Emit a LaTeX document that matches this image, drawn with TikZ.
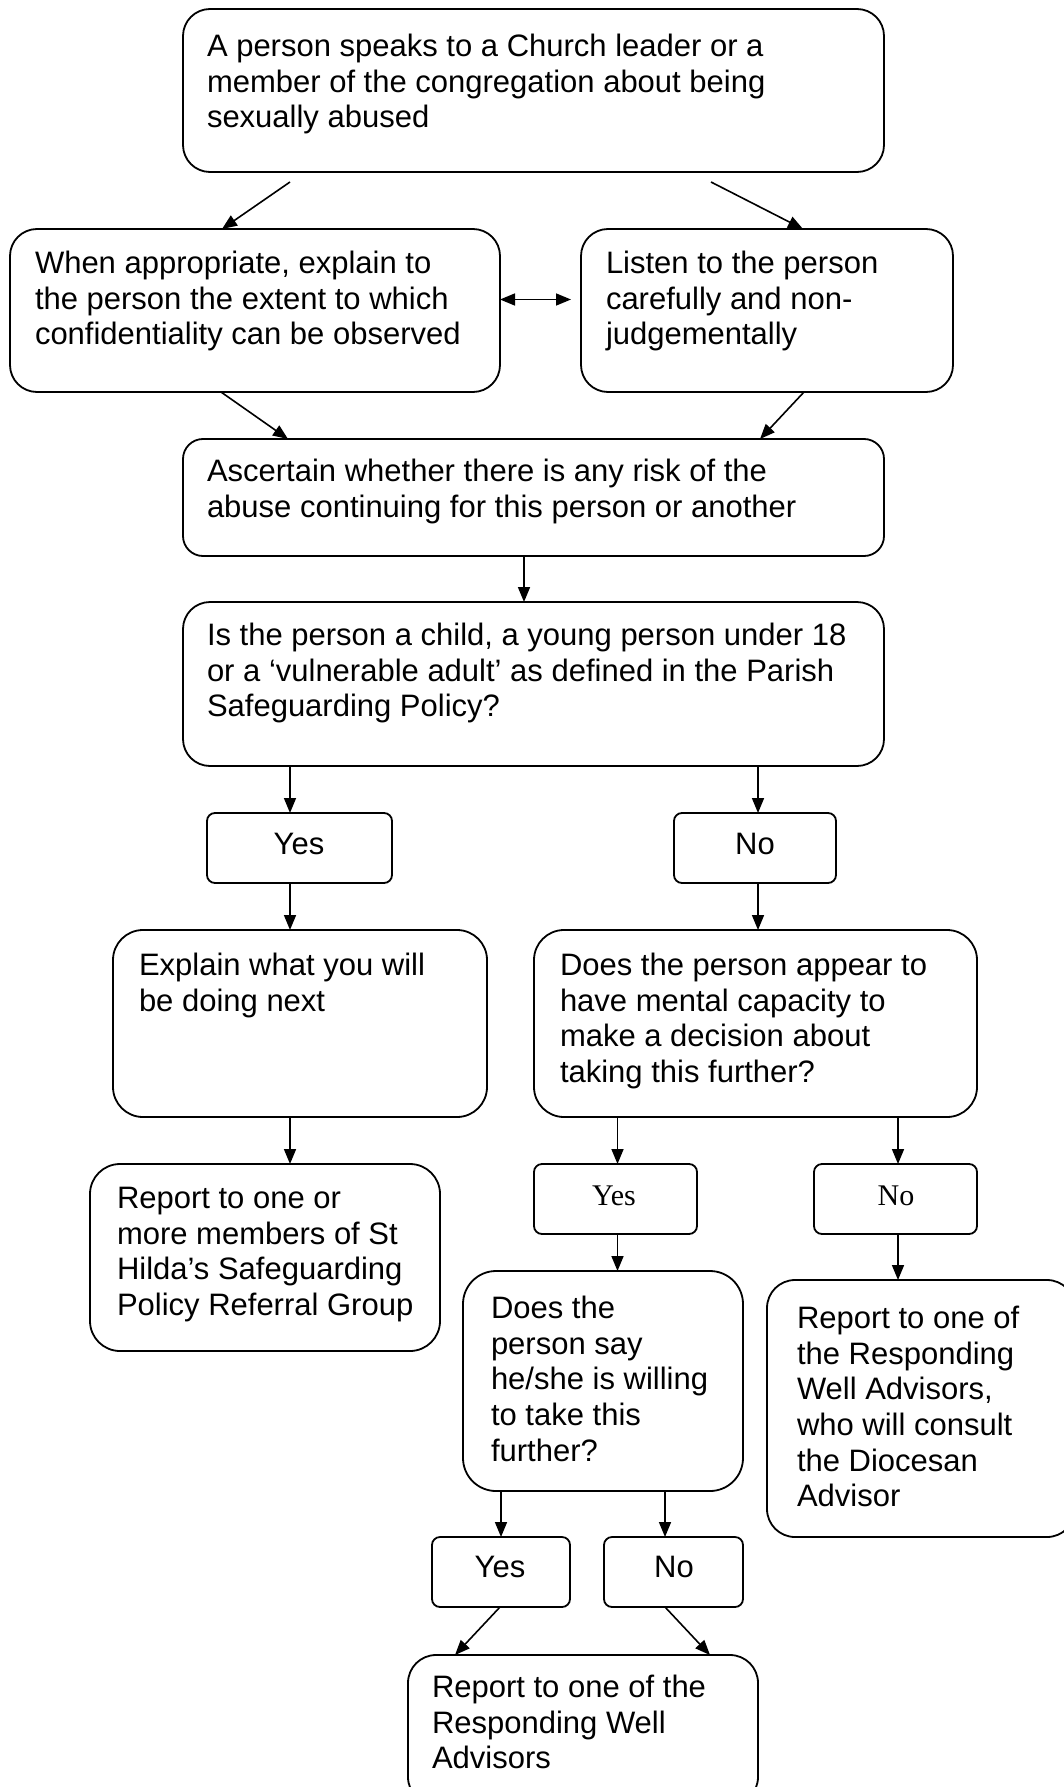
\documentclass[tikz,border=0pt]{standalone}
\usepackage{fontspec}
\setmainfont{Liberation Sans}
\newfontfamily\timesfont{Liberation Serif}
\usetikzlibrary{arrows.meta}
\tikzset{
  box/.style={draw, line width=1.8pt, inner sep=0pt, outer sep=0pt, anchor=north west},
  txt/.style={anchor=north west, inner sep=0pt, outer sep=0pt, align=left,
    font=\fontsize{31}{35.7}\selectfont, execute at begin node={\rule{0pt}{24pt}}},
  lbl/.style={anchor=base, inner sep=0pt, font=\fontsize{31}{35.7}\selectfont},
  tlbl/.style={anchor=base, inner sep=0pt, font=\timesfont\fontsize{30}{34}\selectfont},
  arr/.style={line width=1.6pt, -{Triangle[length=15pt,width=12pt]}},
  darr/.style={line width=1.6pt, {Triangle[length=15pt,width=12pt]}-{Triangle[length=15pt,width=12pt]}}
}
\begin{document}
\begin{tikzpicture}[x=1pt,y=-1pt]
\useasboundingbox (0,0) rectangle (1064,1787);
\clip (0,0) rectangle (1064,1787);
\fill[white] (0,0) rectangle (1064,1787);
% boxes
\node[box, rounded corners=27pt, minimum width=701pt, minimum height=163pt] (top) at (183,9) {};
\node[box, rounded corners=27pt, minimum width=490pt, minimum height=163pt] (conf) at (10,229) {};
\node[box, rounded corners=27pt, minimum width=372pt, minimum height=163pt] (listen) at (581,229) {};
\node[box, rounded corners=20pt, minimum width=701pt, minimum height=117pt] (asc) at (183,439) {};
\node[box, rounded corners=27pt, minimum width=701pt, minimum height=164pt] (isq) at (183,602) {};
\node[box, rounded corners=8pt, minimum width=185pt, minimum height=70pt] (yesA) at (207,813) {};
\node[box, rounded corners=8pt, minimum width=162pt, minimum height=70pt] (noA) at (674,813) {};
\node[box, rounded corners=30pt, minimum width=374pt, minimum height=187pt] (explain) at (113,930) {};
\node[box, rounded corners=30pt, minimum width=443pt, minimum height=187pt] (does) at (534,930) {};
\node[box, rounded corners=30pt, minimum width=350pt, minimum height=187pt] (repA) at (90,1164) {};
\node[box, rounded corners=8pt, minimum width=163pt, minimum height=70pt] (yesB) at (534,1164) {};
\node[box, rounded corners=8pt, minimum width=163pt, minimum height=70pt] (noB) at (814,1164) {};
\node[box, rounded corners=33pt, minimum width=280pt, minimum height=220pt] (willing) at (463,1271) {};
\node[box, rounded corners=28pt, minimum width=308pt, minimum height=257pt] (repB) at (767,1280) {};
\node[box, rounded corners=8pt, minimum width=138pt, minimum height=70pt] (yesC) at (432,1537) {};
\node[box, rounded corners=8pt, minimum width=139pt, minimum height=70pt] (noC) at (604,1537) {};
\node[box, rounded corners=28pt, minimum width=350pt, minimum height=150pt] (repC) at (408,1655) {};
% texts
\node[txt] (topT) at (207,34) {A person speaks to a Church leader or a\\member of the congregation about being\\sexually abused};
\node[txt] (confT) at (35,251) {When appropriate, explain to\\the person the extent to which\\confidentiality can be observed};
\node[txt] (listenT) at (606,251) {Listen to the person\\carefully and non-\\judgementally};
\node[txt] (ascT) at (207,459) {Ascertain whether there is any risk of the\\abuse continuing for this person or another};
\node[txt] (isqT) at (207,623) {Is the person a child, a young person under 18\\or a ‘vulnerable adult’ as defined in the Parish\\Safeguarding Policy?};
\node[lbl] (yesAT) at (299,854) {Yes};
\node[lbl] (noAT) at (755,854) {No};
\node[txt] (explainT) at (139,953) {Explain what you will\\be doing next};
\node[txt] (doesT) at (560,953) {Does the person appear to\\have mental capacity to\\make a decision about\\taking this further?};
\node[txt] (repAT) at (117,1187) {Report to one or\\more members of St\\Hilda’s Safeguarding\\Policy Referral Group};
\node[tlbl] (yesBT) at (614,1205) {Yes};
\node[tlbl] (noBT) at (896,1205) {No};
\node[txt] (willingT) at (491,1296) {Does the\\person say\\he/she is willing\\to take this\\further?};
\node[txt] (repBT) at (797,1306) {Report to one of\\the Responding\\Well Advisors,\\who will consult\\the Diocesan\\Advisor};
\node[lbl] (yesCT) at (500,1577) {Yes};
\node[lbl] (noCT) at (674,1577) {No};
\node[txt] (repCT) at (432,1675) {Report to one of the\\Responding Well\\Advisors};
% connectors
\draw[arr] ([xshift=107pt,yshift=-10pt]top.south west) -- ([xshift=212pt]conf.north west);
\draw[arr] ([xshift=528pt,yshift=-10pt]top.south west) -- ([xshift=222pt]listen.north west);
\draw[darr, shorten >=10pt] ([yshift=11pt]conf.east) -- ([yshift=11pt]listen.west);
\draw[arr] ([xshift=211pt]conf.south west) -- ([xshift=105pt]asc.north west);
\draw[arr] ([xshift=223pt]listen.south west) -- ([xshift=577pt]asc.north west);
\draw[arr] ([xshift=341pt]asc.south west) -- ([xshift=341pt]isq.north west);
\draw[arr] ([xshift=107pt]isq.south west) -- ([xshift=83pt]yesA.north west);
\draw[arr] ([xshift=575pt]isq.south west) -- ([xshift=84pt]noA.north west);
\draw[arr] ([xshift=83pt]yesA.south west) -- ([xshift=177pt]explain.north west);
\draw[arr] ([xshift=84pt]noA.south west) -- ([xshift=224pt]does.north west);
\draw[arr] ([xshift=177pt]explain.south west) -- ([xshift=200pt]repA.north west);
\draw[arr] ([xshift=83.5pt]does.south west) -- ([xshift=83.5pt]yesB.north west);
\draw[arr] ([xshift=364pt]does.south west) -- ([xshift=84pt]noB.north west);
\draw[arr] ([xshift=83.5pt]yesB.south west) -- ([xshift=154.5pt]willing.north west);
\draw[arr] ([xshift=84pt]noB.south west) -- ([xshift=131pt]repB.north west);
\draw[arr] ([xshift=38pt]willing.south west) -- ([xshift=69pt]yesC.north west);
\draw[arr] ([xshift=202pt]willing.south west) -- ([xshift=61pt]noC.north west);
\draw[arr] ([xshift=68pt]yesC.south west) -- ([xshift=47pt]repC.north west);
\draw[arr] ([xshift=61pt]noC.south west) -- ([xshift=302pt]repC.north west);
\end{tikzpicture}
\end{document}
